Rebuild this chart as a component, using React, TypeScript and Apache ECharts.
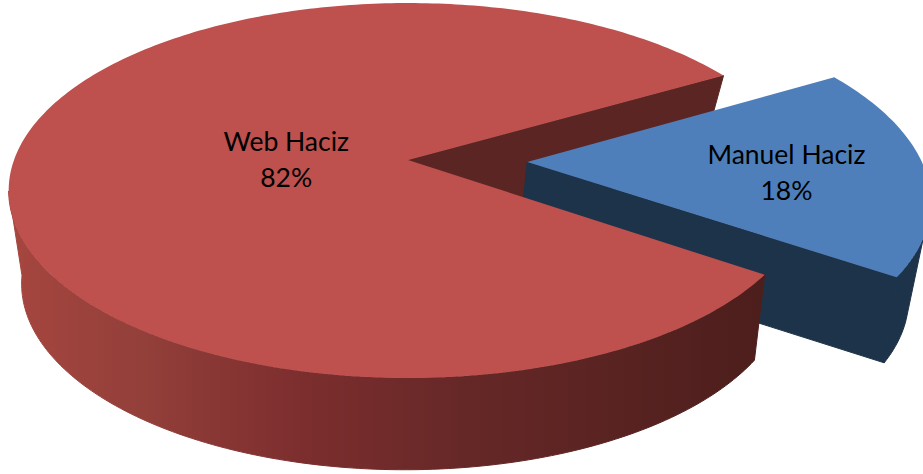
import React, { useEffect, useRef } from "react";
import * as echarts from "echarts";

const categories = ["Manuel Haciz", "Web Haciz"];
const values = [18, 82];
const explodedSlice = "Manuel Haciz";

const WIDTH = 923;
const HEIGHT = 474;
const START_ANGLE = -30;
const STEPS_PER_DEG = 1;

const topPlane = { cx: 408, cy: 160, r: 394, s: 182.5, k: 0.1627 };
const bottomPlane = { cx: 405, cy: 245, r: 375, s: 178, k: 0.208 };
const explode = { du: 0.302, dv: 0.011 };

const sliceStyle: Record<string, any> = {
  "Manuel Haciz": { top: "#4F7FBA", face: "#1D3349", wall: "#1D3349", labelR: 0.653, labelDy: 5, tangentLag: 10 },
  "Web Haciz": {
    top: "#BE504D",
    face: "#5B2523",
    wall: new echarts.graphic.LinearGradient(0, 0, 1, 0, [
      { offset: 0, color: "#A6463F" },
      { offset: 0.18, color: "#933F3A" },
      { offset: 0.38, color: "#7D2E2E" },
      { offset: 0.6, color: "#662827" },
      { offset: 1, color: "#4C1E1C" },
    ]),
    labelR: 0.31,
    labelDy: 1.5,
    tangentLag: 0,
  },
};

const rad = (d: number) => (d * Math.PI) / 180;

function project(plane: any, u: number, v: number): number[] {
  const w = 1 - plane.k * v;
  return [plane.cx + (plane.r * u) / w, plane.cy + (plane.s * v) / w];
}

function rim(plane: any, deg: number, off: any): number[] {
  return project(plane, Math.cos(rad(deg)) + off.du, Math.sin(rad(deg)) + off.dv);
}

function arc(plane: any, from: number, to: number, off: any): number[][] {
  const n = Math.max(2, Math.ceil(Math.abs(to - from) * STEPS_PER_DEG));
  const pts: number[][] = [];
  for (let i = 0; i <= n; i++) pts.push(rim(plane, from + ((to - from) * i) / n, off));
  return pts;
}

function silhouette(off: any) {
  let maxA = 0;
  let minA = 180;
  let maxX = -Infinity;
  let minX = Infinity;
  for (let a = -20; a <= 200; a += 0.5) {
    const x = rim(topPlane, a, off)[0];
    if (x > maxX) { maxX = x; maxA = a; }
    if (x < minX) { minX = x; minA = a; }
  }
  return [maxA, minA];
}

const total = values.reduce((a, b) => a + b, 0);

function renderSlice(params: any, api: any) {
  const idx = params.dataIndex;
  const name = categories[idx];
  const value = api.value(0);
  let startDeg = START_ANGLE;
  for (let i = 0; i < idx; i++) startDeg += (values[i] / total) * 360;
  const endDeg = startDeg + (value / total) * 360;
  const st = sliceStyle[name];
  const isExploded = name === explodedSlice;
  const off = isExploded ? explode : { du: 0, dv: 0 };
  const z = isExploded ? { face: 2, wall: 3, top: 4 } : { face: 1, wall: 5, top: 6 };

  const apexTop = project(topPlane, off.du, off.dv);
  const apexBottom = project(bottomPlane, off.du, off.dv);

  const topPts = [apexTop, ...arc(topPlane, startDeg, endDeg, off)];
  const facePts = [apexTop, rim(topPlane, endDeg, off), rim(bottomPlane, endDeg, off), apexBottom];

  const [silA, silB] = silhouette(off);
  const wallFrom = Math.max(startDeg, silA);
  const wallTo = Math.min(endDeg, silB);
  const wallPts = [
    ...arc(topPlane, wallFrom, wallTo, off),
    ...arc(bottomPlane, wallFrom + st.tangentLag, wallTo, off).reverse(),
  ];

  const mid = rad((startDeg + endDeg) / 2);
  const lu = off.du + st.labelR * Math.cos(mid);
  const lv = off.dv + st.labelR * Math.sin(mid);
  const labelPos = project(topPlane, lu, lv);

  return {
    type: "group",
    children: [
      { type: "polygon", z2: z.face, silent: true, shape: { points: facePts }, style: { fill: st.face, stroke: st.face, lineWidth: 1 } },
      { type: "polygon", z2: z.wall, silent: true, shape: { points: wallPts }, style: { fill: st.wall, stroke: st.wall, lineWidth: 1 } },
      { type: "polygon", z2: z.top, silent: true, shape: { points: topPts }, style: { fill: st.top } },
      {
        type: "text",
        z2: 10,
        silent: true,
        x: labelPos[0],
        y: labelPos[1] + st.labelDy,
        style: {
          text: `${name}\n${Math.round((value / total) * 100)}%`,
          fontFamily: "Lato",
          fontSize: 26.5,
          lineHeight: 36,
          fill: "#000000",
          align: "center",
          verticalAlign: "middle",
        },
      },
    ],
  };
}

export default function App() {
  const ref = useRef<HTMLDivElement>(null);
  useEffect(() => {
    document.body.style.margin = "0";
    const chart = echarts.init(ref.current!, undefined, { renderer: "svg" });
    chart.setOption({
      animation: false,
      backgroundColor: "#ffffff",
      series: [
        {
          type: "custom",
          coordinateSystem: "none",
          clip: false,
          silent: true,
          data: values.map((v, i) => ({ name: categories[i], value: [v] })),
          renderItem: renderSlice,
        },
      ],
    });
    return () => chart.dispose();
  }, []);
  return <div ref={ref} style={{ width: WIDTH, height: HEIGHT }} />;
}
